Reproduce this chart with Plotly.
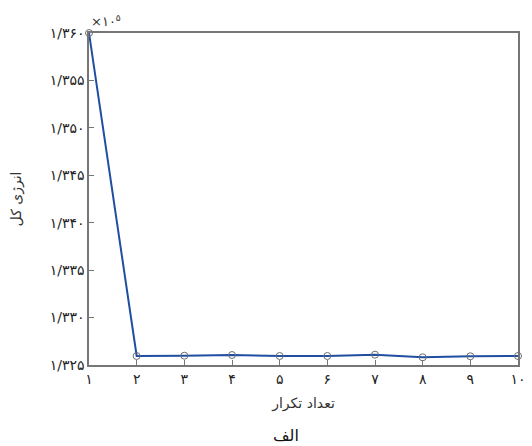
import plotly.graph_objects as go

iterations = [1, 2, 3, 4, 5, 6, 7, 8, 9, 10]
energy = [1.3600, 1.32595, 1.32598, 1.32605, 1.32595, 1.32595, 1.32609, 1.32581, 1.32592, 1.32595]

x_ticks = [1, 2, 3, 4, 5, 6, 7, 8, 9, 10]
x_labels = ["۱", "۲", "۳", "۴", "۵", "۶", "۷", "۸", "۹", "۱۰"]
y_ticks = [1.325, 1.330, 1.335, 1.340, 1.345, 1.350, 1.355, 1.360]
y_labels = ["۱/۳۲۵", "۱/۳۳۰", "۱/۳۳۵", "۱/۳۴۰", "۱/۳۴۵", "۱/۳۵۰", "۱/۳۵۵", "۱/۳۶۰"]

FONT = "DejaVu Sans"
AX = "#767676"

fig = go.Figure()
fig.add_trace(go.Scatter(
    x=iterations, y=energy, mode="lines+markers",
    line=dict(color="#1f4ea3", width=2),
    marker=dict(symbol="circle-open", size=7, color="#6e6e6e", line=dict(width=1, color="#6e6e6e")),
    cliponaxis=False, showlegend=False,
))

axis_common = dict(showgrid=False, zeroline=False, showline=True, linecolor=AX, linewidth=1.5,
                   mirror=True, ticks="inside", ticklen=5, tickcolor=AX,
                   tickfont=dict(family=FONT, size=14, color="#222"))

fig.update_xaxes(range=[1, 10], tickvals=x_ticks, ticktext=x_labels,
                 title=dict(text="تعداد تکرار", font=dict(family=FONT, size=14, color="#333"), standoff=13),
                 **axis_common)
fig.update_yaxes(range=[1.325, 1.360], tickvals=y_ticks, ticktext=y_labels,
                 title=dict(text="انرژی کل", font=dict(family=FONT, size=14, color="#333"), standoff=26),
                 **axis_common)

fig.add_annotation(xref="paper", yref="paper", x=0, y=1, xanchor="left", yanchor="bottom",
                   text="×۱۰<sup>۵</sup>", showarrow=False, xshift=0, yshift=2,
                   font=dict(family=FONT, size=13, color="#333"))
fig.add_annotation(xref="paper", yref="paper", x=0.46, y=0, yanchor="top", xanchor="center",
                   text="الف", showarrow=False, yshift=-59,
                   font=dict(family=FONT, size=16, color="#111"))

fig.update_layout(width=524, height=438, margin=dict(l=80, r=6, t=25, b=81),
                  plot_bgcolor="white", paper_bgcolor="white")

fig.write_html("out.html")
